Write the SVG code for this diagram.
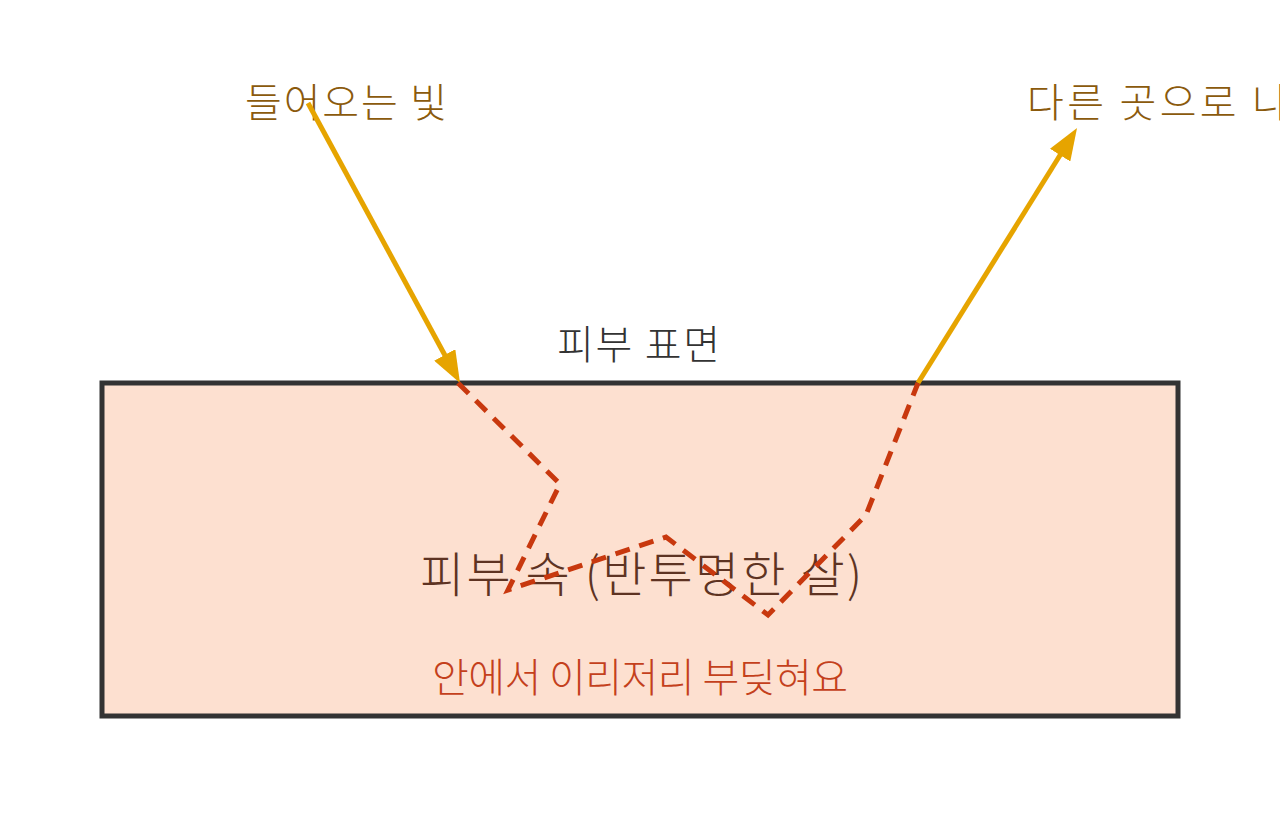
<svg xmlns="http://www.w3.org/2000/svg" width="1280" height="819" viewBox="0 0 1280 819">
<style>
.lbl{font-family:"Noto Sans CJK KR","Noto Sans",sans-serif;font-size:40px;font-weight:300;}
.big{font-size:48px;}
.gold{fill:#8b5a0c;}
.arrow{stroke:#e6a400;stroke-width:5;fill:none;}
.path{stroke:#c8380e;stroke-width:5;fill:none;stroke-dasharray:15 10;}
</style>
<defs>
<marker id="ah" viewBox="0 0 32 24" refX="24" refY="12" markerWidth="32" markerHeight="24" markerUnits="userSpaceOnUse" orient="auto">
<path d="M0,0 L32,12 L0,24 z" fill="#e6a400"/>
</marker>
</defs>
<rect width="1280" height="819" fill="#ffffff"/>
<g id="skin">
<rect x="102" y="383" width="1076" height="333" fill="#fde0d0" stroke="#333333" stroke-width="5"/>
<text class="lbl" x="557" y="359" textLength="163" lengthAdjust="spacing" fill="#333333">피부 표면</text>
<text class="lbl big" x="420" y="592" textLength="442" lengthAdjust="spacing" fill="#5e3322">피부 속 (반투명한 살)</text>
<text class="lbl" x="432" y="692" textLength="416" lengthAdjust="spacing" fill="#c4401c">안에서 이리저리 부딪혀요</text>
</g>
<g id="incoming">
<text class="lbl gold" x="245" y="117" textLength="202" lengthAdjust="spacing">들어오는 빛</text>
</g>
<g id="outgoing">
<text class="lbl gold" x="1027" y="117" textLength="262" lengthAdjust="spacing">다른 곳으로 나</text>
</g>
<g id="connectors">
<line class="arrow" x1="308" y1="103" x2="456.2" y2="376" marker-end="url(#ah)"/>
<line class="arrow" x1="918" y1="383" x2="1072.8" y2="134.8" marker-end="url(#ah)"/>
<polyline class="path" points="458,383 560,484 508,590 666,537 768,615 866,515 918,383"/>
</g>
</svg>
